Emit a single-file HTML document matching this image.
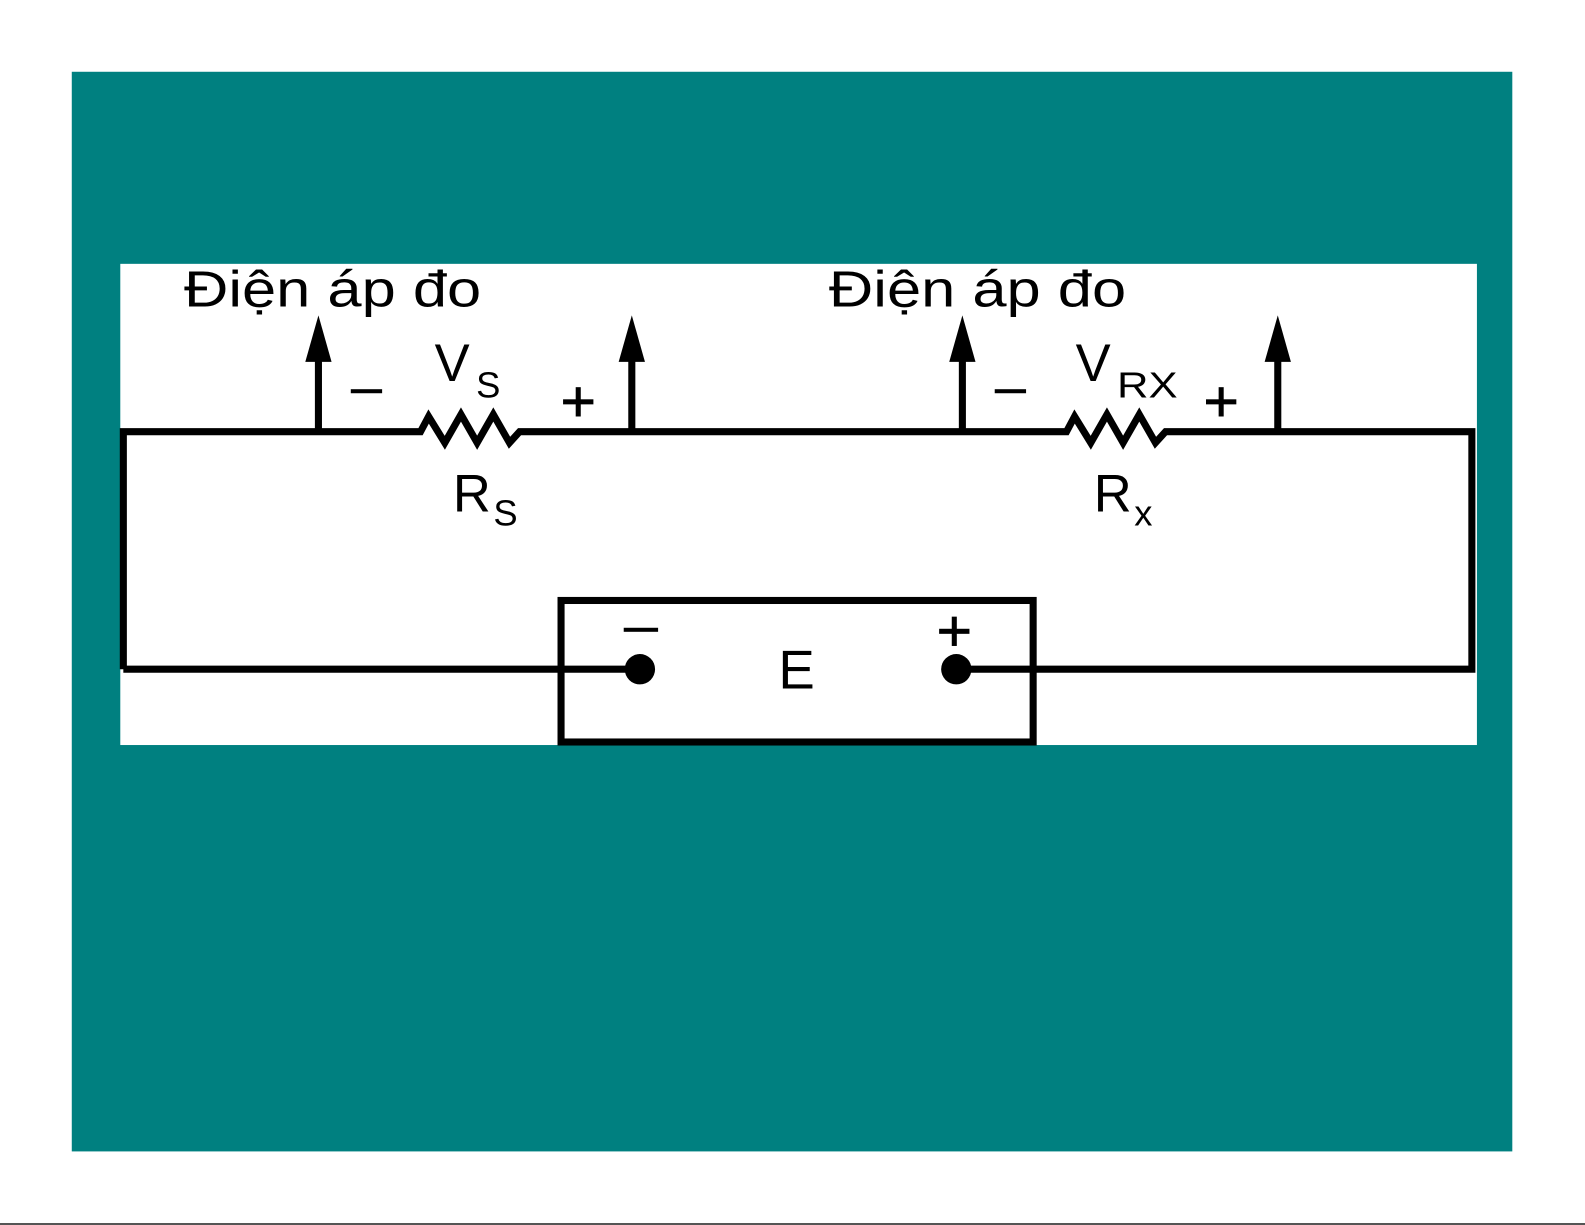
<!DOCTYPE html>
<html><head><meta charset="utf-8"><style>
html,body{margin:0;padding:0;background:#fff;}
svg{display:block}
text{font-family:"Liberation Sans",Arial,sans-serif;fill:#000}
</style></head><body>
<svg width="1585" height="1225" viewBox="0 0 1585 1225" xmlns="http://www.w3.org/2000/svg">
<rect width="1585" height="1225" fill="#fff"/>
<rect x="0" y="1223" width="1585" height="2" fill="#555"/>
<g transform="scale(1.0109)">
<rect x="71" y="71" width="1425" height="1068" fill="#008080"/>
<rect x="119" y="261" width="1342" height="476" fill="#fff"/>
<g stroke="#000" stroke-width="7" fill="none" stroke-linejoin="miter">
  <polyline points="122,662 122,427 416,427 424,412 440,438 456,410 472,438 488,410 504,438 514,427 522,427 1055,427 1063,412 1079,438 1095,410 1111,438 1127,410 1143,438 1153,427 1160,427 1456,427 1456,662 946,662"/>
  <line x1="122" y1="662" x2="633" y2="662"/>
  <rect x="555" y="594" width="467" height="140"/>
  <line x1="315" y1="427" x2="315" y2="350"/>
  <line x1="625" y1="427" x2="625" y2="350"/>
  <line x1="952" y1="427" x2="952" y2="350"/>
  <line x1="1264" y1="427" x2="1264" y2="350"/>
</g>
<g fill="#000">
  <polygon points="315,312 302,358 328,358"/>
  <polygon points="625,312 612,358 638,358"/>
  <polygon points="952,312 939,358 965,358"/>
  <polygon points="1264,312 1251,358 1277,358"/>
  <circle cx="633" cy="662" r="15"/>
  <circle cx="946" cy="662" r="15"/>
</g>
<text x="182" y="303" font-size="50" textLength="294" lengthAdjust="spacingAndGlyphs">Điện áp đo</text>
<text x="820" y="303" font-size="50" textLength="294" lengthAdjust="spacingAndGlyphs">Điện áp đo</text>
<rect x="347" y="385" width="31" height="4" fill="#000"/>
<rect x="984" y="385" width="31" height="4" fill="#000"/>
<rect x="617" y="621" width="34" height="4" fill="#000"/>
<g fill="#000">
  <rect x="557" y="395" width="30" height="5"/><rect x="569.5" y="383" width="5" height="29"/>
  <rect x="1193" y="395" width="30" height="5"/><rect x="1205.5" y="383" width="5" height="29"/>
  <rect x="929" y="622" width="30" height="5"/><rect x="941.5" y="610" width="5" height="29"/>
</g>
<text x="430" y="377" font-size="52">V</text>
<text x="471" y="393" font-size="36">S</text>
<text x="1064" y="377" font-size="52">V</text>
<text x="1105" y="393" font-size="36" textLength="60" lengthAdjust="spacingAndGlyphs">RX</text>
<text x="448" y="506" font-size="52">R</text>
<text x="488" y="520" font-size="36">S</text>
<text x="1082" y="506" font-size="52">R</text>
<text x="1122" y="520" font-size="36">x</text>
<text x="770" y="681" font-size="54">E</text>
</g>
</svg>
</body></html>
